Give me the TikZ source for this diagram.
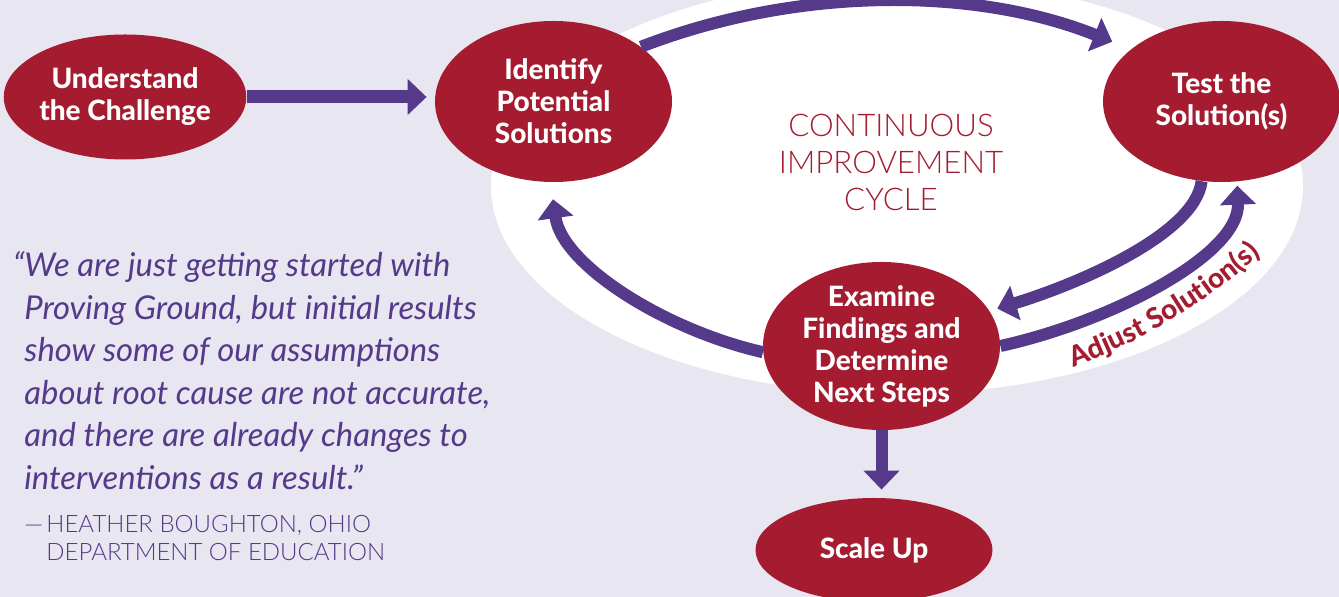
\documentclass[tikz,border=0pt]{standalone}
\usepackage{fontspec}
\setmainfont{Lato}
\IfFontExistsTF{Lato Heavy}{\newfontfamily\heavyfamily{Lato Heavy}}{\def\heavyfamily{\bfseries}}
\IfFontExistsTF{Lato Light}{\newfontfamily\lightfamily{Lato Light}[ItalicFont={Lato Light Italic}]}{\def\lightfamily{}}
\usetikzlibrary{shapes.geometric, arrows.meta, positioning, calc, decorations.text}
\definecolor{brick_red}{RGB}{165, 28, 49}
\definecolor{royal_purple}{RGB}{85, 57, 138}
\definecolor{lavender_mist}{RGB}{232, 230, 240}
\def \stagefont {\fontsize{14pt}{16pt}\selectfont\heavyfamily}
\def \cyclefont {\fontsize{15.6pt}{18.5pt}\selectfont\lightfamily}
\def \quotefont {\fontsize{16.4pt}{21.3pt}\selectfont\itshape}
\def \sourcefont {\fontsize{12pt}{14pt}\selectfont\lightfamily}

\begin{document}
\begin{tikzpicture}[
    x=0.5pt, y=-0.5pt,
    stage/.style={
        ellipse,
        fill=brick_red,
        minimum width=118.5pt,
        minimum height=#1,
        inner sep=0pt,
        text=white,
        align=center,
        font=\stagefont
    },
    arrow/.style={
        -{Triangle[length=9.5pt, width=17.5pt]},
        line width=6pt,
        draw=royal_purple,
        #1
    },
    arrow/.default={}
]

% Background and cycle area
\fill[lavender_mist] (0,0) rectangle (1339,597);
\useasboundingbox (0,0) rectangle (1339,597);
\clip (0,0) rectangle (1339,597);
\fill[white] (897,186) ellipse [x radius=406, y radius=208];
\node[text=brick_red, font=\cyclefont, align=center] (cycle) at (891,162) {CONTINUOUS\\IMPROVEMENT\\CYCLE};

% Stages
\node[stage=62.5pt] (understand) at (125,97) {Understand\\the Challenge};
\node[stage=80.5pt] (identify) at (553.5,101.5) {Identify\\Potential\\Solutions};
\node[stage=80.5pt] (test) at (1221.5,101.5) {Test the\\Solution(s)};
\node[stage=84pt, inner ysep=-2pt] (examine) at (881.5,346) {Examine\\Findings and\\Determine\\Next Steps};
\node[stage=52pt] (scaleup) at (874,550) {Scale Up};

% Arrows between stages
\draw[arrow={line width=6.5pt}, shorten >=4pt] (understand.east) -- (understand.east -| identify.west);
\draw[arrow, shorten >=10pt] (identify.32) .. controls (798,-14) and (976,-13) .. (test.150);
\draw[arrow, shorten >=4pt] (test.256) .. controls (1195,235) and (1075,285) .. (examine.18);
\draw[arrow, shorten >=2pt] (examine.0) .. controls (1110,322) and (1240,255) .. (test.281);
\draw[arrow, shorten >=8.5pt] (examine.183) .. controls (665,330) and (562,265) .. (identify.268);
\draw[arrow, shorten >=4pt] (examine.south) -- (examine.south |- scaleup.north);

% Label along the feedback arrow
\path[decorate, decoration={text along path, text={|\stagefont|Adjust Solution(s)}, text color=brick_red}]
    (1073,367) .. controls (1161,335) and (1240,282) .. (1303,212);

% Quote
\node[anchor=north west, text=royal_purple, font=\quotefont, align=left, inner sep=0pt] (quote) at (24,251)
    {\llap{“}We are just getting started with\\Proving Ground, but initial results\\show some of our assumptions\\about root cause are not accurate,\\and there are already changes to\\interventions as a result.”};
\node[anchor=north west, text=royal_purple, font=\sourcefont, align=left, inner sep=0pt] (source) at (24,515)
    {\makebox[11pt][l]{—}HEATHER BOUGHTON, OHIO\\\hspace*{11pt}DEPARTMENT OF EDUCATION};

\end{tikzpicture}
\end{document}
